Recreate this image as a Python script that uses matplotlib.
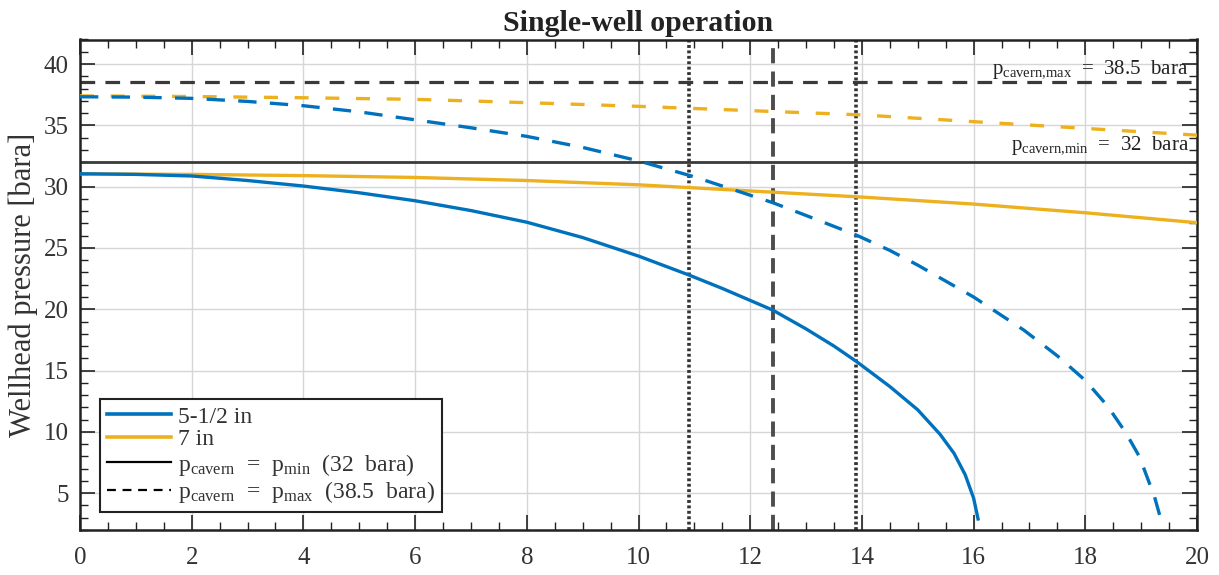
import matplotlib
matplotlib.use("Agg")
import matplotlib.pyplot as plt
from matplotlib.lines import Line2D
from matplotlib.ticker import MultipleLocator

plt.rcParams['font.family'] = ['Liberation Serif', 'DejaVu Serif']
plt.rcParams['mathtext.fontset'] = 'custom'
plt.rcParams['mathtext.rm'] = 'Liberation Serif'
plt.rcParams['mathtext.it'] = 'Liberation Serif:italic'
plt.rcParams['mathtext.bf'] = 'Liberation Serif:bold'

# ---- data ----
small_min_x = [0, 1, 2, 3, 4, 5, 6, 7, 8, 9, 10, 10.9, 11.5, 12.4, 13.0, 13.5, 13.9, 14.5, 15.0, 15.4, 15.65, 15.85, 16.0, 16.08]
small_min_y = [31.05, 31.0, 30.87, 30.5, 30.05, 29.5, 28.85, 28.05, 27.1, 25.85, 24.34, 22.8, 21.7, 19.94, 18.4, 17.0, 15.75, 13.7, 11.8, 9.8, 8.25, 6.5, 4.6, 2.9]

small_max_x = [0, 1, 2, 3, 4, 5, 6, 7, 8, 9, 10, 11, 12, 12.4, 13, 13.9, 14.5, 15, 16, 16.9, 17.5, 18, 18.4, 18.73, 18.97, 19.24, 19.39]
small_max_y = [37.33, 37.3, 37.2, 36.95, 36.6, 36.1, 35.45, 34.8, 34.1, 33.2, 32.1, 30.8, 29.3, 28.7, 27.65, 26.05, 24.8, 23.6, 21.0, 18.3, 16.2, 14.2, 12.1, 9.9, 7.97, 4.7, 2.26]

big_min_x = [0, 2, 4, 6, 8, 10, 12, 14, 16, 18, 20]
big_min_y = [31.05, 31.0, 30.9, 30.75, 30.5, 30.15, 29.65, 29.15, 28.58, 27.87, 27.06]

big_max_x = [0, 2, 4, 6, 8, 10, 12, 14, 16, 18, 20]
big_max_y = [37.4, 37.35, 37.25, 37.12, 36.85, 36.55, 36.2, 35.85, 35.3, 34.75, 34.2]

p_min = 32.0
p_max = 38.5
dotted_x = [10.9, 13.9]
dashed_x = [12.4]

legend_labels = ['5-1/2 in', '7 in',
                 r'p$_{\rm cavern}$  =  p$_{\rm min}$  (32  bara)',
                 r'p$_{\rm cavern}$  =  p$_{\rm max}$  (38.5  bara)']
text_max = r'p$_{\rm cavern{,}max}$  =  38.5  bara'
text_min = r'p$_{\rm cavern{,}min}$  =  32  bara'

blue = '#0072BD'
orange = '#EDB120'

fig = plt.figure(figsize=(12.19, 5.75), dpi=100)
ax = fig.add_axes([80/1219, 45/575, 1117/1219, 490.5/575])

ax.grid(True, which='major', color='#d6d6d6', lw=1.0, zorder=0)
ax.set_axisbelow(True)

ax.axhline(p_max, color='#3a3a3a', lw=2.3, dashes=(4.6, 3.2), zorder=2)
ax.axhline(p_min, color='#3a3a3a', lw=2.0, zorder=2)
for xv in dotted_x:
    ax.axvline(xv, color='#333333', lw=2.6, dashes=(0.8, 0.7), zorder=2)
for xv in dashed_x:
    ax.axvline(xv, color='#4d4d4d', lw=2.8, dashes=(3.9, 2.1), zorder=2)

ax.plot(big_max_x, big_max_y, color=orange, lw=2.4, dashes=(4.2, 5.0), zorder=3)
ax.plot(big_min_x, big_min_y, color=orange, lw=2.4, zorder=3)
ax.plot(small_max_x, small_max_y, color=blue, lw=2.4, dashes=(5.5, 4.0), zorder=4)
ax.plot(small_min_x, small_min_y, color=blue, lw=2.4, zorder=4)

ax.text(19.85, 38.65, text_max, ha='right', va='bottom', fontsize=15, color='#222222')
ax.text(19.85, 32.45, text_min, ha='right', va='bottom', fontsize=15, color='#222222')

ax.set_xlim(0, 20)
ax.set_ylim(2, 42)
ax.set_xticks(range(0, 21, 2))
ax.set_yticks(range(5, 41, 5))
ax.xaxis.set_minor_locator(MultipleLocator(0.5))
ax.yaxis.set_minor_locator(MultipleLocator(1))
ax.tick_params(which='both', direction='in', top=True, right=True, color='#222222')
ax.tick_params(which='major', length=11, width=1.2, labelsize=18, colors='#222222', labelcolor='#333333')
ax.tick_params(which='minor', length=6, width=1.0)
ax.tick_params(axis='x', which='major', pad=12)
ax.tick_params(axis='y', which='major', pad=8)
for s in ax.spines.values():
    s.set_linewidth(1.8)
    s.set_color('#222222')

ax.set_ylabel('Wellhead pressure [bara]', fontsize=22, color='#333333', labelpad=4)
ax.set_title('Single-well operation', fontsize=21.5, fontweight='bold', color='#222222', pad=6)

handles = [Line2D([], [], color=blue, lw=2.6),
           Line2D([], [], color=orange, lw=2.6),
           Line2D([], [], color='black', lw=1.6),
           Line2D([], [], color='black', lw=1.6, dashes=(4, 3))]
leg = ax.legend(handles, legend_labels, loc='lower left', bbox_to_anchor=(0.018, 0.037),
                borderaxespad=0, fontsize=17, handlelength=2.7, handletextpad=0.3,
                labelspacing=0.05, borderpad=0.3, fancybox=False, framealpha=1,
                edgecolor='#222222')
leg.get_frame().set_linewidth(1.5)
for t in leg.get_texts():
    t.set_color('#333333')

fig.savefig('out.png', dpi=100)
